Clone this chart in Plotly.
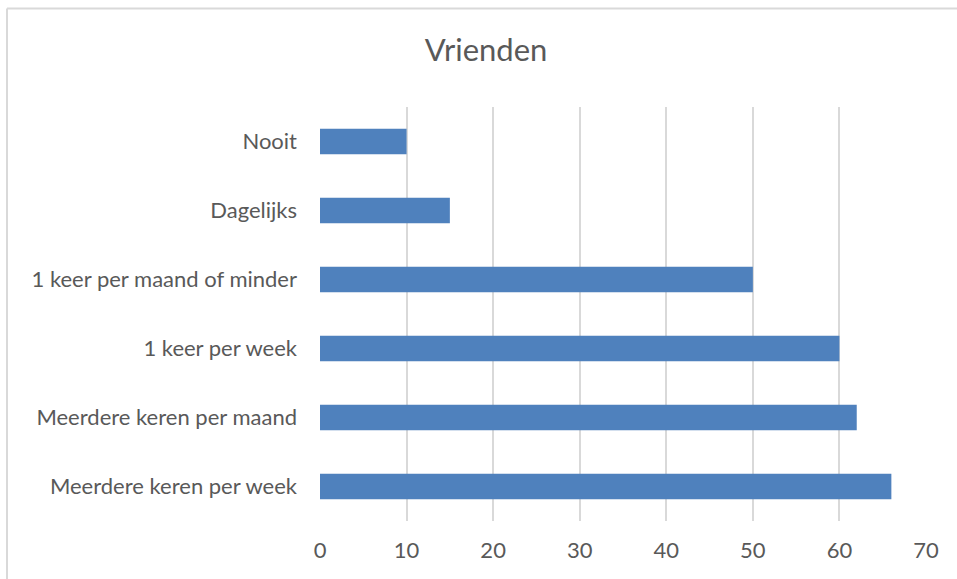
import plotly.graph_objects as go

CATEGORIES = [
    "Meerdere keren per week",
    "Meerdere keren per maand",
    "1 keer per week",
    "1 keer per maand of minder",
    "Dagelijks",
    "Nooit",
]
VALUES = [66, 62, 60, 50, 15, 10]
X_TICKS = [0, 10, 20, 30, 40, 50, 60, 70]

BAR_COLOR = "#4F81BD"
GRID_COLOR = "#D9D9D9"
TEXT_COLOR = "#595959"
FONT = "Lato, 'Noto Sans', sans-serif"

W, H = 957, 579
PLOT_L, PLOT_R, PLOT_T, PLOT_B = 320, 926, 107, 521

fig = go.Figure(
    go.Bar(
        x=VALUES,
        y=CATEGORIES,
        orientation="h",
        marker=dict(color=BAR_COLOR, line=dict(width=0)),
    )
)

# chart frame: only the left and top edges show in the reference crop
plot_w = PLOT_R - PLOT_L
plot_h = PLOT_B - PLOT_T
border_left = (7 - PLOT_L) / plot_w
border_top = (PLOT_B - 8.5) / plot_h
frame = [
    dict(type="line", xref="paper", yref="paper",
         x0=border_left, x1=border_left, y0=-0.3, y1=border_top,
         line=dict(color=GRID_COLOR, width=2), layer="below"),
    dict(type="line", xref="paper", yref="paper",
         x0=border_left, x1=1.2, y0=border_top, y1=border_top,
         line=dict(color=GRID_COLOR, width=2), layer="below"),
]

fig.update_layout(
    width=W,
    height=H,
    margin=dict(l=PLOT_L, r=W - PLOT_R, t=PLOT_T, b=H - PLOT_B),
    plot_bgcolor="#FFFFFF",
    paper_bgcolor="#FFFFFF",
    bargap=0.63,
    showlegend=False,
    font=dict(family=FONT, color=TEXT_COLOR),
    title=dict(
        text="Vrienden",
        x=486 / W,
        xanchor="center",
        y=1 - 50 / H,
        yanchor="middle",
        font=dict(size=31, color=TEXT_COLOR, family=FONT),
    ),
    shapes=frame,
)

fig.update_xaxes(
    range=[0, 70],
    tickvals=X_TICKS,
    showgrid=True,
    gridcolor=GRID_COLOR,
    gridwidth=1.5,
    zeroline=False,
    showline=False,
    ticklabelstandoff=14,
    tickfont=dict(size=22, color=TEXT_COLOR),
)
fig.update_yaxes(
    showgrid=False,
    zeroline=False,
    showline=False,
    ticklabelstandoff=22,
    tickfont=dict(size=22, color=TEXT_COLOR),
)

# drop the default page margin so the figure fills the window without scrollbars
fig.write_html(
    "out.html",
    config={"displayModeBar": False},
    post_script="document.body.style.margin='0';document.body.style.overflow='hidden';",
)
